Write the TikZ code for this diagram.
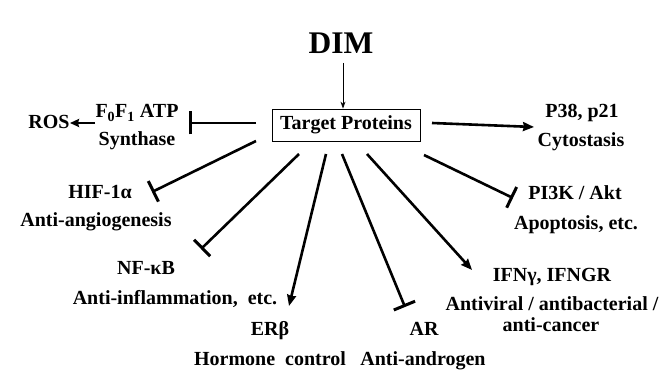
\documentclass[tikz,border=0pt]{standalone}
\usepackage{fontspec}
\setmainfont{Liberation Serif}
\usetikzlibrary{arrows.meta}
\begin{document}
\begin{tikzpicture}[x=1pt,y=-1pt,
  lbl/.style={font=\fontsize{20}{22}\selectfont\bfseries, inner sep=0pt, anchor=base},
  act/.style={line width=2.6pt, -{Stealth[length=11pt,width=9pt,inset=1pt]}},
  inh/.style={line width=2.6pt, -{Bar[width=23pt,line width=3pt]}},
  thin/.style={line width=0.8pt, -{Stealth[length=7pt,width=5pt]}}]
\useasboundingbox (0,0) rectangle (669,390);
\node[font=\fontsize{31.5}{33}\selectfont\bfseries, inner sep=0pt, anchor=base] (dim) at (341,53.5) {DIM};
\node[draw, line width=0.8pt, minimum width=148pt, minimum height=32pt, inner sep=0pt,
      font=\fontsize{20}{22}\selectfont\bfseries] (tp) at (346,125) {Target Proteins};
\draw[thin] (343,63) -- (tp.north -| 343,0);
% left
\node[lbl] (f0) at (137,118) {F\textsubscript{0}F\textsubscript{1} ATP};
\node[lbl] (syn) at (137,145.5) {Synthase};
\node[lbl] (ros) at (49,128.5) {ROS};
\coordinate (f0bar) at (189,123);
\coordinate (rosA) at (95,123);
\coordinate (rosB) at (70,123);
\draw[inh] (256,123) -- (f0bar);
\draw[line width=2.4pt, -{Stealth[length=9pt,width=8pt,inset=1pt]}] (rosA) -- (rosB);
% right
\node[lbl] (p38) at (582,117.5) {P38, p21};
\node[lbl] (cyt) at (581,146.5) {Cytostasis};
\coordinate (p38s) at (432,123);
\coordinate (p38e) at (534,127);
\draw[act] (p38s) -- (p38e);
\node[lbl] (pi3k) at (575,199.5) {PI3K / Akt};
\node[lbl] (apo) at (576,229.5) {Apoptosis, etc.};
\coordinate (pis) at (424,155);
\coordinate (pie) at (513,198);
\draw[inh] (pis) -- (pie);
% lower left
\node[lbl] (hif) at (100,198.5) {HIF-1α};
\node[lbl] (ang) at (96,226.5) {Anti-angiogenesis};
\coordinate (hifs) at (256,141);
\coordinate (hife) at (152,192);
\draw[inh] (hifs) -- (hife);
\node[lbl] (nfkb) at (146,274.5) {NF-κB};
\node[lbl] (infl) at (175,304.5) {Anti-inflammation,\ \ etc.};
\coordinate (nfs) at (299,154);
\coordinate (nfe) at (201,249);
\draw[inh] (nfs) -- (nfe);
% bottom
\node[lbl] (erb) at (270,335.5) {ERβ};
\node[lbl] (horm) at (270,365.5) {Hormone\ \ control};
\coordinate (ers) at (326,154);
\coordinate (ere) at (289,306);
\draw[act] (ers) -- (ere);
\node[lbl] (ar) at (424,335.5) {AR};
\node[lbl] (anda) at (423,365.5) {Anti-androgen};
\coordinate (ars) at (342,154);
\coordinate (are) at (405,307);
\draw[inh] (ars) -- (are);
\node[lbl] (ifn) at (552,281.5) {IFNγ, IFNGR};
\node[lbl] (anti1) at (552,310) {Antiviral / antibacterial /};
\node[lbl] (anti2) at (551,331) {anti-cancer};
\coordinate (ifs) at (367,154);
\coordinate (ife) at (472,270);
\draw[act] (ifs) -- (ife);
\end{tikzpicture}
\end{document}
